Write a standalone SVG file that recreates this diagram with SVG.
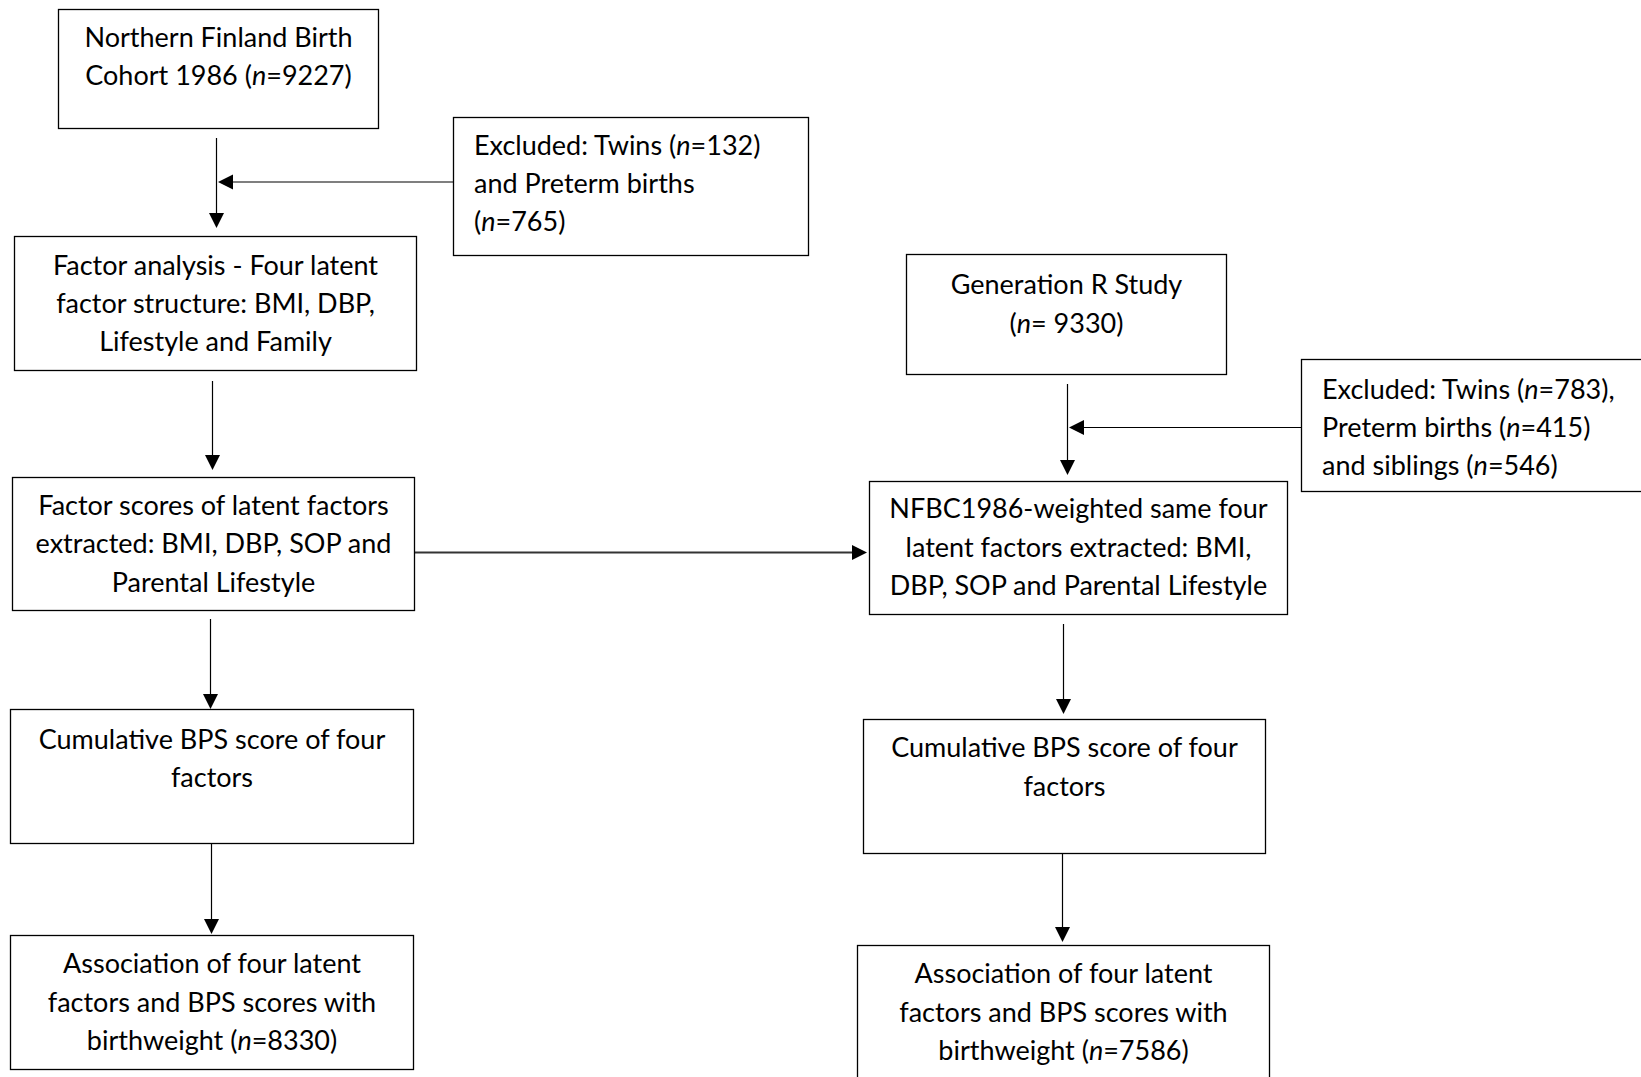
<svg xmlns="http://www.w3.org/2000/svg" width="1641" height="1077" viewBox="0 0 1641 1077">
<defs>
<style>
.box{fill:#fff;stroke:#000;stroke-width:1.3}
.t{font-family:Lato,"Liberation Sans",sans-serif;font-size:27px;fill:#000}
.c{text-anchor:middle}
.con{fill:none;stroke:#000;stroke-width:1.2}
.i{font-style:italic}
.ah{fill:#000}
</style>
<path id="tri" d="M-7.5,-15 L7.5,-15 L0,0 z"/>
</defs>
<rect width="1641" height="1077" fill="#fff"/>
<g id="connectors">
<path class="con" d="M216.5 138 V214"/>
<use href="#tri" class="ah" transform="translate(216.5,228)"/>
<path class="con" d="M453 182 H232"/>
<use href="#tri" class="ah" transform="translate(218,182) rotate(90)"/>
<path class="con" d="M212.5 381 V456"/>
<use href="#tri" class="ah" transform="translate(212.5,470)"/>
<path class="con" d="M414.5 552.5 H853" style="stroke:#333;stroke-width:2.2"/>
<use href="#tri" class="ah" transform="translate(867,552.5) rotate(-90)"/>
<path class="con" d="M210.5 619 V695"/>
<use href="#tri" class="ah" transform="translate(210.5,709)"/>
<path class="con" d="M211.5 843.5 V920"/>
<use href="#tri" class="ah" transform="translate(211.5,934)"/>
<path class="con" d="M1067.5 384 V461"/>
<use href="#tri" class="ah" transform="translate(1067.5,475)"/>
<path class="con" d="M1301 427.5 H1083"/>
<use href="#tri" class="ah" transform="translate(1069,427.5) rotate(90)"/>
<path class="con" d="M1063.5 624 V700"/>
<use href="#tri" class="ah" transform="translate(1063.5,714)"/>
<path class="con" d="M1062.5 853.5 V928"/>
<use href="#tri" class="ah" transform="translate(1062.5,942)"/>
</g>
<g id="nfbc">
<rect class="box" x="58.5" y="9.5" width="320" height="119"/>
<text class="t c" x="218.5" y="46.7">Northern Finland Birth</text>
<text class="t c" x="218.5" y="85">Cohort 1986 (<tspan class="i">n</tspan>=9227)</text>
</g>
<g id="excl1">
<rect class="box" x="453.5" y="117.5" width="355" height="138"/>
<text class="t" x="474" y="155">Excluded: Twins (<tspan class="i">n</tspan>=132)</text>
<text class="t" x="474" y="193">and Preterm births</text>
<text class="t" x="474" y="231">(<tspan class="i">n</tspan>=765)</text>
</g>
<g id="factor-analysis">
<rect class="box" x="14.5" y="236.5" width="402" height="134"/>
<text class="t c" x="215.5" y="275">Factor analysis - Four latent</text>
<text class="t c" x="215.5" y="313">factor structure: BMI, DBP,</text>
<text class="t c" x="215.5" y="351">Lifestyle and Family</text>
</g>
<g id="factor-scores">
<rect class="box" x="12.5" y="477.5" width="402" height="133"/>
<text class="t c" x="213.5" y="515">Factor scores of latent factors</text>
<text class="t c" x="213.5" y="553">extracted: BMI, DBP, SOP and</text>
<text class="t c" x="213.5" y="592">Parental Lifestyle</text>
</g>
<g id="cum-left">
<rect class="box" x="10.5" y="709.5" width="403" height="134"/>
<text class="t c" x="212" y="749">Cumulative BPS score of four</text>
<text class="t c" x="212" y="787">factors</text>
</g>
<g id="assoc-left">
<rect class="box" x="10.5" y="935.5" width="403" height="134"/>
<text class="t c" x="212" y="973">Association of four latent</text>
<text class="t c" x="212" y="1012">factors and BPS scores with</text>
<text class="t c" x="212" y="1050">birthweight (<tspan class="i">n</tspan>=8330)</text>
</g>
<g id="genr">
<rect class="box" x="906.5" y="254.5" width="320" height="120"/>
<text class="t c" x="1066.5" y="293.5">Generation R Study</text>
<text class="t c" x="1066.5" y="333">(<tspan class="i">n</tspan>= 9330)</text>
</g>
<g id="excl2">
<rect class="box" x="1301.5" y="359.5" width="345" height="132"/>
<text class="t" x="1322" y="398.5">Excluded: Twins (<tspan class="i">n</tspan>=783),</text>
<text class="t" x="1322" y="436.5">Preterm births (<tspan class="i">n</tspan>=415)</text>
<text class="t" x="1322" y="475">and siblings (<tspan class="i">n</tspan>=546)</text>
</g>
<g id="weighted">
<rect class="box" x="869.5" y="481.5" width="418" height="133"/>
<text class="t c" x="1078.5" y="518">NFBC1986-weighted same four</text>
<text class="t c" x="1078.5" y="557">latent factors extracted: BMI,</text>
<text class="t c" x="1078.5" y="595">DBP, SOP and Parental Lifestyle</text>
</g>
<g id="cum-right">
<rect class="box" x="863.5" y="719.5" width="402" height="134"/>
<text class="t c" x="1064.5" y="757">Cumulative BPS score of four</text>
<text class="t c" x="1064.5" y="796">factors</text>
</g>
<g id="assoc-right">
<rect class="box" x="857.5" y="945.5" width="412" height="140"/>
<text class="t c" x="1063.5" y="983">Association of four latent</text>
<text class="t c" x="1063.5" y="1021.5">factors and BPS scores with</text>
<text class="t c" x="1063.5" y="1060">birthweight (<tspan class="i">n</tspan>=7586)</text>
</g>
</svg>
